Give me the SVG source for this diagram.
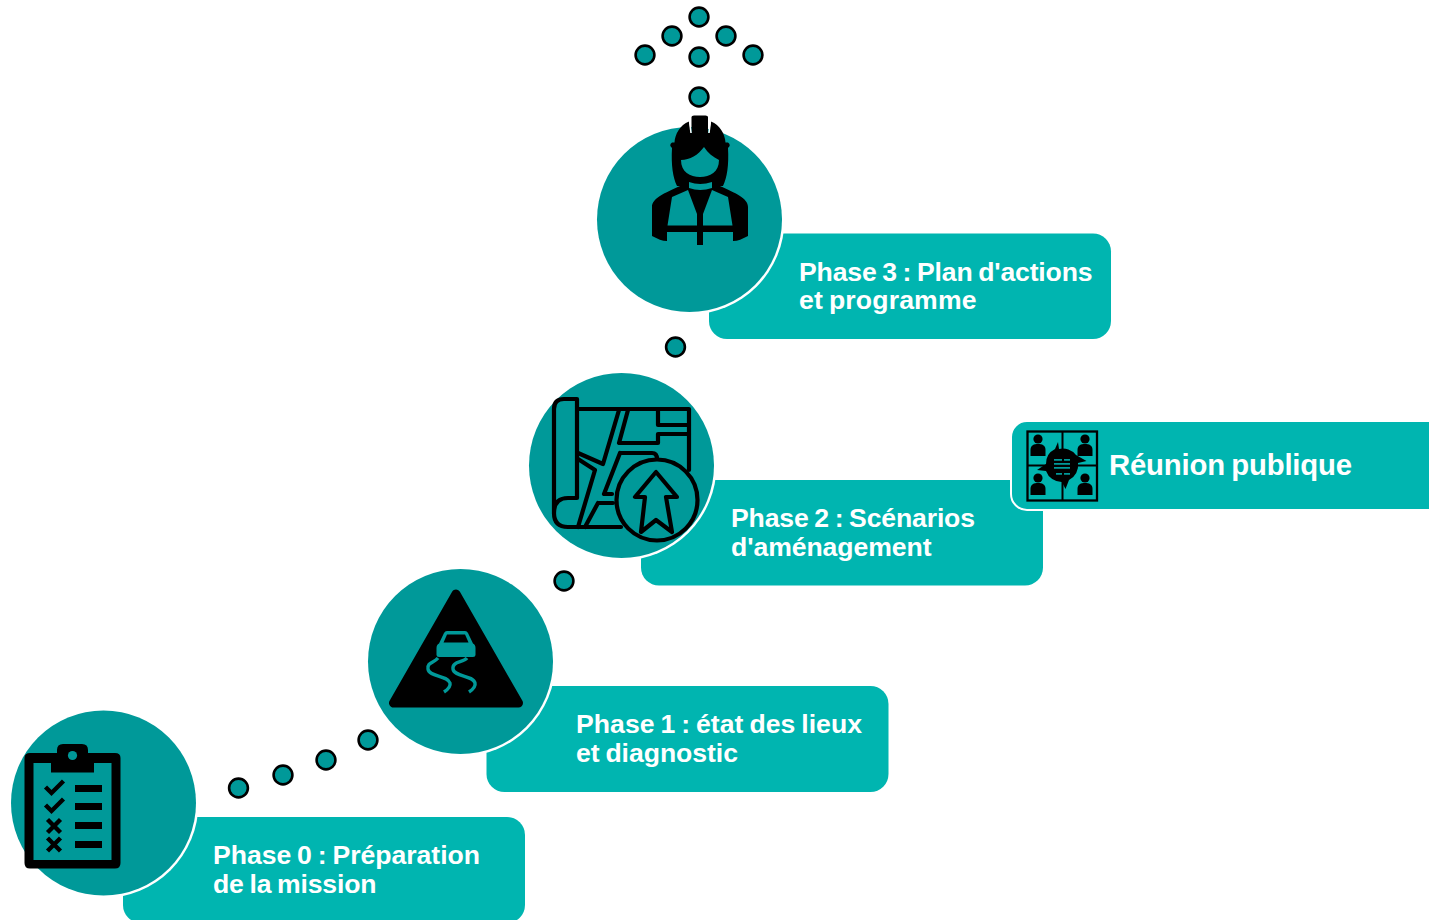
<svg xmlns="http://www.w3.org/2000/svg" width="1429" height="920" viewBox="0 0 1429 920">
<style>
.box{fill:#00b5b0}
.halo{fill:#fff}
.disc{fill:#009999}
.dot{fill:#009999;stroke:#000;stroke-width:2.6}
.t{font-family:"Liberation Sans",Arial,sans-serif;font-weight:700;font-size:26.6px;fill:#fff;word-spacing:-1.5px}
.ln{fill:none;stroke:#000;stroke-width:4.2;stroke-linejoin:round;stroke-linecap:round}
.k{fill:#000}
.c{fill:#009999}
</style>
<defs>
<g id="person"><circle cx="0" cy="-7" r="4.6" class="k"/><path class="k" d="M-7.500,10V4C-7.500,-1 -4,-2 0,-2C4,-2 7.500,-1 7.500,4V10Z"/></g>
</defs>
<rect width="1429" height="920" fill="#fff"/>
<g id="connectors">
<circle class="dot" cx="699" cy="17" r="9.4"/><circle class="dot" cx="672" cy="36" r="9.4"/><circle class="dot" cx="726" cy="36" r="9.4"/><circle class="dot" cx="645" cy="55" r="9.4"/><circle class="dot" cx="699" cy="57" r="9.4"/><circle class="dot" cx="753" cy="55" r="9.4"/><circle class="dot" cx="699" cy="97" r="9.4"/><circle class="dot" cx="675.500" cy="347" r="9.4"/><circle class="dot" cx="564" cy="581" r="9.4"/><circle class="dot" cx="368" cy="740" r="9.4"/><circle class="dot" cx="326" cy="760" r="9.4"/><circle class="dot" cx="283" cy="775" r="9.4"/><circle class="dot" cx="238.500" cy="788" r="9.4"/>
</g>
<g id="phase0">
<rect class="box" x="123" y="817" width="402" height="106" rx="18"/>
<circle class="halo" cx="103.500" cy="803" r="95"/><circle class="disc" cx="103.500" cy="803" r="92.500"/>
<path class="k" fill-rule="evenodd" d="M30,753H57V750Q57,744 63,744H82Q88,744 88,750V753H115Q120.500,753 120.500,758V863Q120.500,868.500 115,868.500H30Q24.500,868.500 24.500,863V758Q24.500,753 30,753ZM33.500,763V860H111.500V763H94V772.500H51V763Z"/>
<circle class="c" cx="72.500" cy="755.500" r="4.600"/>
<path class="k" d="M75,785h27v7h-27zM75,803h27v7h-27zM75,822h27v7h-27zM75,841h27v7h-27z"/>
<path d="M45.500,787l6,6l12,-12M45.500,805l6,6l12,-12M47.500,819.500l13,13M60.500,819.500l-13,13M47.500,838l13,13M60.500,838l-13,13" fill="none" stroke="#000" stroke-width="4.400"/>
<text class="t" x="213" y="864" textLength="267">Phase 0 : Préparation</text><text class="t" x="213" y="893" textLength="163.500">de la mission</text>
</g>
<g id="phase1">
<rect class="box" x="486.500" y="686" width="402" height="106" rx="18"/>
<circle class="halo" cx="460.500" cy="661.500" r="95"/><circle class="disc" cx="460.500" cy="661.500" r="92.500"/>
<path class="k" stroke="#000" stroke-width="9" stroke-linejoin="round" d="M456,594L393.500,703H518.500Z"/>
<path class="c" d="M436.500,648Q436.500,644.500 439,643.500L444,633Q445,631 447,631H465Q467,631 468,633L473,643.500Q475.500,644.500 475.500,648V655Q475.500,657 473,657H439Q436.500,657 436.500,655Z"/>
<path class="k" d="M447,634.500H465L468.500,642.500H443.500Z"/>
<path d="M438,658C434,663 427,662 428,669C429,677 447,675 450,683C451,687 447,690 444,692M467,658C463,663 452,661 453,669C454,677 473,675 475,683C476,687 472,690 469,692" fill="none" stroke="#009999" stroke-width="3.400"/>
<text class="t" x="576" y="733" textLength="286">Phase 1 : état des lieux</text><text class="t" x="576" y="762" textLength="162">et diagnostic</text>
</g>
<g id="phase2">
<rect class="box" x="641" y="480" width="402" height="105.500" rx="18"/>
<circle class="halo" cx="621.500" cy="465.500" r="95"/><circle class="disc" cx="621.500" cy="465.500" r="92.500"/>
<path class="ln" d="M577,409H689V470M577,399H564Q554,399 554,409V514M577,399V498H568Q554,498 554,513Q554,527 568,527H621"/>
<path class="ln" d="M619,410L603,464L578,453M578,459L595,470L578,527M628,410L619,443H658V434H689M658,410V425H689M620,453H652Q657,453 657,459M620,453L604,494H612M598,503H613M598,503L585,527"/>
<circle cx="657" cy="500" r="40.500" fill="#009999" stroke="#000" stroke-width="4.200"/>
<path class="ln" d="M656,472L635,497H645L641,532L656,520L672,532L666,497H677Z"/>
<text class="t" x="731" y="527" textLength="244">Phase 2 : Scénarios</text><text class="t" x="731" y="556" textLength="200.500">d'aménagement</text>
</g>
<g id="phase3">
<rect class="box" x="709" y="233.500" width="402" height="105.500" rx="18"/>
<circle class="halo" cx="689.500" cy="219.500" r="95"/><circle class="disc" cx="689.500" cy="219.500" r="92.500"/>
<path class="k" d="M691.500,117Q691.500,115.500 694,115.500H705.500Q708,115.500 708,117V133H691.500Z"/>
<path class="k" d="M689,121.500L691,133H709L711,121.500C720,125 725,134 725.500,142.500H728Q731.500,145 728,148C729,165 727,178 723,186H677C673,178 671,165 672,148Q668.500,145 672,142.500H674.500C675,134 680,125 689,121.500Z"/>
<path d="M689.500,121L691,133M710.500,121L709,133" stroke="#fff" stroke-width="1.500" fill="none"/>
<path class="k" d="M652,207C652,198 665,193 680,186H720C735,193 748,198 748,207V236C742,239 738,241 733,241V232H703V245H697V232H667V241C662,241 658,239 652,236Z"/>
<path class="c" d="M681,160C690,160 698,155 704,147C708,153 713,157 719,160C719,172 710,177 700,177C690,177 681,172 681,160Z"/>
<path class="c" d="M689,182Q700,186 712,182V188Q700,192 689,188Z"/>
<path class="c" d="M672,197L688,190L697,214V225.500H667.500ZM728,197L712,190L703,214V225.500H732.500Z"/>
<text class="t" x="799" y="281" textLength="293.500">Phase 3 : Plan d'actions</text><text class="t" x="799" y="309" textLength="177.500">et programme</text>
</g>
<g id="reunion">
<rect class="box" x="1011" y="421" width="440" height="89" rx="16" stroke="#fff" stroke-width="2"/>
<rect x="1027.500" y="431.500" width="69.500" height="69" fill="none" stroke="#000" stroke-width="2.300"/>
<path d="M1062.500,431V501M1027,465.500H1098" stroke="#000" stroke-width="2"/>
<use href="#person" x="1038" y="446"/><use href="#person" x="1085" y="446"/><use href="#person" x="1038" y="485"/><use href="#person" x="1085" y="485"/>
<path class="k" d="M1058,442L1059,449A16.500,16.500 0 0 1 1076,455L1086.500,461L1078,463A16.500,16.500 0 0 1 1069,480L1065.500,489L1062,482A16.500,16.500 0 0 1 1046,471L1037,470L1046,464A16.500,16.500 0 0 1 1055,449Z"/>
<path class="c" d="M1054,459h8v1.700h-8zM1064,459h6v1.700h-6zM1054,463h16v1.700h-16zM1054,467h16v1.700h-16zM1056,473h6v1.700h-6zM1064,473h6v1.700h-6z"/>
<text class="t" x="1109" y="474.500" style="font-size:29.300px" textLength="243">Réunion publique</text>
</g>
</svg>
